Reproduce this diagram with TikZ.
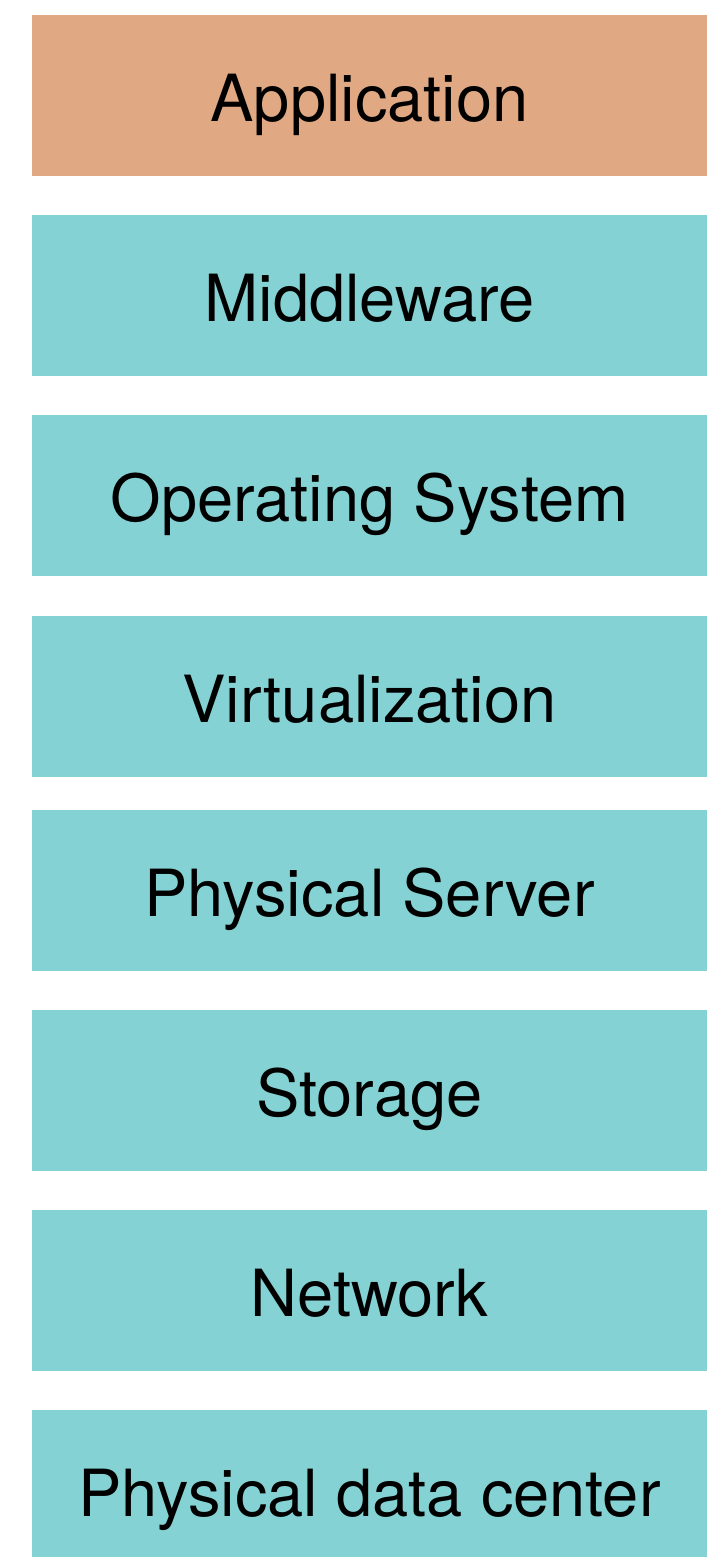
\documentclass[tikz,border=0pt]{standalone}
\usepackage{fontspec}
\setmainfont{TeX Gyre Heros}
\definecolor{apporange}{RGB}{224,169,132}
\definecolor{layerteal}{RGB}{132,210,211}
\begin{document}
\begin{tikzpicture}[x=1pt,y=-1pt,
  layerbox/.style={fill=#1,draw=none},
  layertext/.style={anchor=base,inner sep=0pt,font=\fontsize{65}{70}\selectfont,text=black}]
\useasboundingbox (0,0) rectangle (713,1557);
\fill[white] (0,0) rectangle (713,1557);
% boxes
\path[layerbox=apporange] (32,15) rectangle (707,176);
\path[layerbox=layerteal] (32,215) rectangle (707,376);
\path[layerbox=layerteal] (32,415) rectangle (707,576);
\path[layerbox=layerteal] (32,616) rectangle (707,777);
\path[layerbox=layerteal] (32,810) rectangle (707,971);
\path[layerbox=layerteal] (32,1010) rectangle (707,1171);
\path[layerbox=layerteal] (32,1210) rectangle (707,1371);
\path[layerbox=layerteal] (32,1410) rectangle (707,1557);
% texts
\node[layertext] (app) at (369.5,121.5) {Application};
\node[layertext] (mid) at (369.5,321.5) {Middleware};
\node[layertext] (os) at (369.5,521.5) {Operating System};
\node[layertext] (virt) at (369.5,722) {Virtualization};
\node[layertext] (ps) at (369.5,916) {Physical Server};
\node[layertext] (sto) at (369.5,1116) {Storage};
\node[layertext] (net) at (369.5,1316) {Network};
\node[layertext] (pdc) at (369.5,1516) {Physical data center};
\end{tikzpicture}
\end{document}
